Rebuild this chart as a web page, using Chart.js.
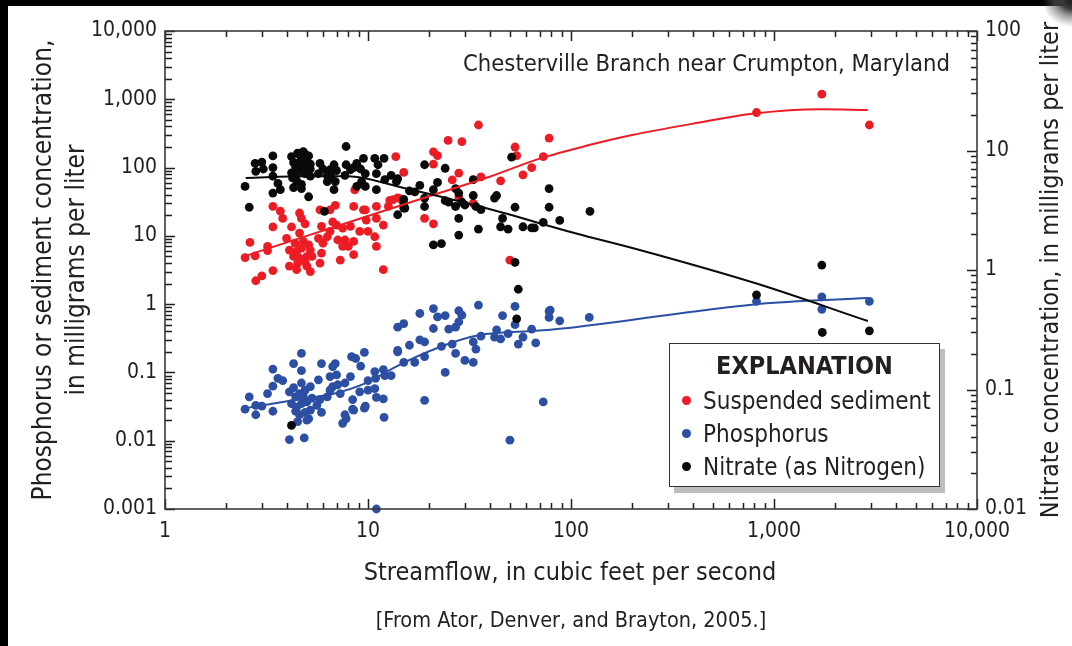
<!DOCTYPE html>
<html><head><meta charset="utf-8">
<script src="https://cdn.jsdelivr.net/npm/chart.js@4/dist/chart.umd.min.js"></script>
<style>
html,body{margin:0;padding:0;background:#000;width:1072px;height:646px;overflow:hidden;}
#paper{position:absolute;left:8px;top:6px;width:1064px;height:640px;background:#fff;}
#corner{position:absolute;left:1036px;top:0;width:36px;height:32px;background:radial-gradient(ellipse at 100% 0%, #1c1c1c 0px, #3a3a3a 10px, rgba(90,90,90,0.6) 18px, rgba(255,255,255,0) 30px);}
#c{position:absolute;left:0;top:0;}
.t{position:absolute;font-family:'Liberation Sans Narrow','DejaVu Sans Condensed','Roboto Condensed','Arial Narrow',sans-serif;color:#231f20;white-space:nowrap;}
.rot{transform:rotate(-90deg);text-align:center;width:560px;height:32px;line-height:32px;top:254px;}
#legend{position:absolute;left:669px;top:343px;width:271px;height:144px;box-sizing:border-box;border:1.5px solid #333;background:#fff;box-shadow:5px 6px 0 #bdbdbd;}
#legend .title{position:absolute;left:0;width:100%;top:7px;line-height:30px;text-align:center;font-weight:bold;font-size:25px;}
#legend .item{position:absolute;left:33px;line-height:30px;font-size:24px;}
#legend .dot{position:absolute;left:12px;width:9px;height:9px;border-radius:50%;}
</style></head>
<body>
<div id="paper"></div>
<div id="corner"></div>
<canvas id="c" width="1072" height="646"></canvas>
<div class="t rot" style="left:-238px;font-size:26px;">Phosphorus or sediment concentration,</div>
<div class="t rot" style="left:-205px;font-size:26px;">in milligrams per liter</div>
<div class="t rot" style="left:770px;font-size:25px;">Nitrate concentration, in milligrams per liter</div>
<div class="t" style="left:270px;width:600px;text-align:center;top:556px;line-height:32px;font-size:25px;">Streamflow, in cubic feet per second</div>
<div class="t" style="left:271px;width:600px;text-align:center;top:606px;line-height:28px;font-size:21.5px;">[From Ator, Denver, and Brayton, 2005.]</div>
<div class="t" style="right:122px;top:48px;line-height:30px;font-size:23.6px;">Chesterville Branch near Crumpton, Maryland</div>
<div id="legend"><div class="t title">EXPLANATION</div></div>
<script>
// ---------- data ----------
const sedimentFlow = [13.7,8.6,14.4,3.4,3.7,3.8,3.4,2.62,2.48,2.78,3.2,3.4,2.8,3.0,4.2,4.6,4.7,4.9,4.6,3.97,4.37,4.8,5.1,4.1,4.45,4.7,5.2,4.3,4.6,5.0,5.3,4.5,4.9,4.1,4.45,5.0,5.2,5.8,5.9,6.0,5.7,5.9,6.5,6.7,7.0,7.1,6.3,6.5,6.9,5.8,7.5,8.2,7.7,8.0,8.5,9.1,9.8,11.0,10.0,10.8,11.0,11.9,9.7,11.0,12.6,13.3,8.5,7.5,8.5,7.3,11.9,15,12.8,9.5,35,24.8,29,21,22,21,28,36,45,26,53,54,78,73,64,58,19,21,33,28,50,14,3.2,820,1720,2950];
const sedimentConc = [145,47,35,27,23,18,13.5,8,4.8,5.1,7,3.1,2.2,2.6,13.5,21.6,18,15,11,9.2,7.8,8.3,7.4,6.2,5.9,6.6,6.2,5.0,4.7,5.0,5.0,4.0,4.2,3.6,3.2,3.6,3.0,4.0,5.6,7.8,9.2,13.8,11.6,16,14.4,8.7,9.7,24,28,24,13,13.8,8.7,7.0,8.3,11.6,17,18,11.6,9.7,7.0,14.4,24,27,27,34,27,7.0,5.3,4.4,3.2,85,33,24,420,250,240,170,150,112,83,73,64,66,200,150,270,145,100,78,18,15,30,37,4.4,36,6.1,640,1190,420];

const phosphorusFlow = [2.48,2.6,2.8,3.0,2.8,3.2,3.4,3.4,3.4,3.6,3.8,4.3,4.7,4.7,4.1,4.4,4.6,4.9,4.2,4.45,4.7,5.0,4.4,4.6,4.9,5.1,4.5,5.0,5.2,4.7,5.2,4.1,4.85,5.7,5.9,5.9,5.8,6.3,6.5,6.7,6.5,6.7,6.9,7.0,7.1,7.3,7.7,7.7,7.8,7.5,8.3,8.7,8.4,8.4,9.2,9.6,8.2,9.1,9.7,10.0,10.0,10.8,11.9,12.1,13,10.8,11.0,12,14,14,10.9,11.9,15,21,18,22,24,28,29,28,27,25,35,21,53,53,46,78,78,88,14,16,18,19,15,17,19,23,26,27,30,33,33,34,36,42,43,45,49,55,58,64,67,24,19,73,50,123,820,1720,1720,2950,11,79,4.8,5.3,4.3,5.6,8.5,9.6];
const phosphorusConc = [0.029,0.044,0.033,0.032,0.024,0.049,0.063,0.112,0.027,0.082,0.076,0.135,0.19,0.106,0.052,0.044,0.049,0.055,0.035,0.031,0.035,0.037,0.027,0.024,0.026,0.021,0.019,0.020,0.028,0.070,0.062,0.0104,0.011,0.078,0.135,0.026,0.040,0.044,0.055,0.062,0.087,0.122,0.135,0.092,0.066,0.049,0.070,0.024,0.021,0.018,0.17,0.16,0.040,0.029,0.124,0.196,0.087,0.052,0.032,0.076,0.055,0.103,0.11,0.09,0.09,0.058,0.043,0.022,0.46,0.21,0.082,0.041,0.52,0.86,0.73,0.65,0.68,0.80,0.69,0.55,0.46,0.43,0.97,0.44,0.93,0.50,0.68,0.79,0.64,0.57,0.20,0.25,0.30,0.28,0.14,0.14,0.17,0.24,0.26,0.19,0.15,0.14,0.28,0.22,0.34,0.33,0.42,0.31,0.37,0.26,0.33,0.43,0.27,0.10,0.039,0.037,0.0102,0.64,1.1,1.28,0.84,1.1,0.001,0.82,0.045,0.042,0.060,0.033,0.028,0.030];

const nitrateFlow = [7.8,3.4,2.78,3.0,2.8,3.05,3.4,3.4,3.6,3.4,3.7,2.48,2.6,4.2,4.3,4.4,4.2,4.25,4.6,4.9,5.1,4.7,5.0,5.2,4.5,4.9,5.2,4.5,4.9,5.2,4.45,4.7,4.3,4.7,5.1,5.8,6.0,5.7,6.3,6.5,6.8,7.0,6.6,6.3,6.9,6.8,7.8,8.2,7.7,8.5,8.8,9.2,9.5,9.7,9.3,8.8,9.7,10.8,11.2,12,11,12.1,13,11,13.8,6.1,14,15,15.2,4.8,4.5,4.6,4.8,
  51,19,24,14,16,18,22,17,19,21,19,15,15,24,25,27,27,28,29,30,33,33,34,36,28,35,28,21,23,42,43,46,49,53,58,64,66,73,78,78,88,45,53,55,54,124,820,1720,1730,2950,4.2];
const nitrateConc = [10.8,9.0,7.8,8.0,6.7,7.0,7.2,6.1,5.3,4.4,4.7,5.0,3.35,8.9,7.9,7.2,6.5,5.9,9.2,9.3,9.0,8.3,8.2,7.7,7.6,7.2,7.0,6.6,6.4,6.1,5.6,5.2,4.9,4.8,4.1,7.8,7.0,6.4,6.2,6.9,7.6,6.8,6.0,5.5,5.5,4.7,7.6,6.9,6.2,7.2,7.8,7.0,8.6,6.4,5.5,5.0,5.0,8.6,7.6,8.6,6.4,5.7,6.2,4.7,5.5,3.1,2.9,3.6,3.3,9.8,9.5,8.0,7.0,
  8.8,7.6,7.1,5.8,4.6,5.1,5.4,4.5,4.0,4.7,3.4,3.9,3.3,3.8,3.7,3.4,4.8,4.4,3.7,3.5,5.7,4.2,3.4,3.2,2.7,2.2,1.96,1.62,1.66,4.0,4.2,2.7,2.2,3.35,2.3,2.25,2.25,2.5,3.35,4.8,2.6,2.3,1.16,0.69,0.39,3.1,0.62,1.10,0.30,0.31,0.05];

// smoothed trend lines
const sedimentTrendFlow = [2.5,5,10,20,40,70,120,200,400,800,1700,2900];
const sedimentTrendConc = [5.1,10,19.5,38,74,135,210,300,440,620,715,695];
const phosphorusTrendFlow = [2.5,4.5,7,10,13.6,22.6,35,70,105,820,2900];
const phosphorusTrendConc = [0.030,0.040,0.050,0.072,0.12,0.236,0.35,0.41,0.46,1.0,1.23];
const nitrateTrendFlow = [2.5,5,8,14,38,105,218,820,2900];
const nitrateTrendConc = [5.9,6.1,6.1,5.0,3.3,2.03,1.47,0.77,0.374];

const xTickValues = [1,10,100,1000,10000];
const xTickLabels = ['1','10','100','1,000','10,000'];
const yTickValues = [0.001,0.01,0.1,1,10,100,1000,10000];
const yTickLabels = ['0.001','0.01','0.1','1','10','100','1,000','10,000'];
const y2TickValues = [0.01,0.1,1,10,100];
const y2TickLabels = ['0.01','0.1','1','10','100'];

const seriesNames = ['Suspended sediment','Phosphorus','Nitrate (as Nitrogen)'];
const seriesColors = ['#ed1c24','#2c4fa3','#0a0a0a'];

// ---------- chart ----------
const FONT = "'Liberation Sans Narrow','DejaVu Sans Condensed','Roboto Condensed','Arial Narrow',sans-serif";
const TXT = '#231f20';
const zip = (a,b) => a.map((v,i) => ({x:v, y:b[i]}));

// tick positions on a log axis: 1..9 times each power of ten inside [min, max]
function decadeTicks(min, max) {
  const out = [];
  const d0 = Math.floor(Math.log10(min) + 1e-9), d1 = Math.ceil(Math.log10(max) - 1e-9);
  for (let d = d0; d <= d1; d++) {
    for (let m = 1; m <= 9; m++) {
      const v = m * Math.pow(10, d);
      if (v >= min * 0.999 && v <= max * 1.001) out.push({v, major: m === 1});
    }
  }
  return out;
}

const frame = {
  id: 'logframe',
  afterDraw(chart) {
    const ctx = chart.ctx, a = chart.chartArea;
    const sx = chart.scales.x, sy = chart.scales.y, sy2 = chart.scales.y2;
    ctx.save();
    ctx.strokeStyle = '#1e1e1e';
    ctx.lineWidth = 1.5;
    ctx.beginPath();
    decadeTicks(1, 10000).forEach(t => {
      const p = Math.round(sx.getPixelForValue(t.v)) + 0.5, L = t.major ? 10 : 6;
      ctx.moveTo(p, a.bottom); ctx.lineTo(p, a.bottom - L);
      ctx.moveTo(p, a.top); ctx.lineTo(p, a.top + L);
    });
    decadeTicks(0.001, 10000).forEach(t => {
      const p = Math.round(sy.getPixelForValue(t.v)) + 0.5, L = t.major ? 10 : 7;
      ctx.moveTo(a.left, p); ctx.lineTo(a.left + L, p);
    });
    decadeTicks(0.01, 100).forEach(t => {
      const p = Math.round(sy2.getPixelForValue(t.v)) + 0.5, L = t.major ? 10 : 6;
      ctx.moveTo(a.right, p); ctx.lineTo(a.right - L, p);
    });
    ctx.stroke();
    ctx.strokeStyle = '#3a3a3a';
    ctx.lineWidth = 1.6;
    ctx.strokeRect(a.left, a.top, a.right - a.left, a.bottom - a.top);
    ctx.restore();
  }
};

const tickFont = {family: FONT, size: 21};
const pointSet = (i, fx, fy, axis, order) => ({
  label: seriesNames[i], data: zip(fx, fy), yAxisID: axis, order,
  backgroundColor: seriesColors[i], borderWidth: 0, pointRadius: 4.4, showLine: false, clip: false
});
const trendSet = (i, fx, fy, axis, order) => ({
  label: seriesNames[i] + ' trend', data: zip(fx, fy), yAxisID: axis, order,
  borderColor: seriesColors[i], borderWidth: 2, pointRadius: 0, showLine: true,
  cubicInterpolationMode: 'monotone', fill: false, clip: false
});

new Chart(document.getElementById('c'), {
  type: 'scatter',
  data: {
    datasets: [
      pointSet(0, sedimentFlow, sedimentConc, 'y', 6),
      pointSet(1, phosphorusFlow, phosphorusConc, 'y', 5),
      pointSet(2, nitrateFlow, nitrateConc, 'y2', 4),
      trendSet(0, sedimentTrendFlow, sedimentTrendConc, 'y', 3),
      trendSet(1, phosphorusTrendFlow, phosphorusTrendConc, 'y', 2),
      trendSet(2, nitrateTrendFlow, nitrateTrendConc, 'y2', 1)
    ]
  },
  options: {
    responsive: false, devicePixelRatio: 1, animation: false, events: [],
    layout: {padding: {top: 31, left: 0, right: 0, bottom: 0}},
    plugins: {legend: {display: false}, tooltip: {enabled: false}},
    scales: {
      x: {
        type: 'logarithmic', position: 'bottom', min: 1, max: 10000,
        afterBuildTicks: s => { s.ticks = xTickValues.map(v => ({value: v})); },
        afterFit: s => { s.height = 137; },
        grid: {display: false, drawTicks: false}, border: {display: false},
        ticks: {padding: 10, color: TXT, font: tickFont, maxRotation: 0, autoSkip: false,
                callback: (v, i) => xTickLabels[i]}
      },
      y: {
        type: 'logarithmic', position: 'left', min: 0.001, max: 10000,
        afterBuildTicks: s => { s.ticks = yTickValues.map(v => ({value: v})); },
        afterFit: s => { s.width = 165; },
        grid: {display: false, drawTicks: false}, border: {display: false},
        ticks: {padding: 8, color: TXT, font: tickFont, autoSkip: false,
                callback: (v, i) => yTickLabels[i]}
      },
      y2: {
        type: 'logarithmic', position: 'right', min: 0.01, max: 100,
        afterBuildTicks: s => { s.ticks = y2TickValues.map(v => ({value: v})); },
        afterFit: s => { s.width = 95; },
        grid: {display: false, drawTicks: false}, border: {display: false},
        ticks: {padding: 8, color: TXT, font: tickFont, autoSkip: false,
                callback: (v, i) => y2TickLabels[i]}
      }
    }
  },
  plugins: [frame]
});

// legend built from the series names and colours
const lg = document.getElementById('legend');
seriesNames.forEach((name, i) => {
  const top = 42 + i * 33;
  const d = document.createElement('div'); d.className = 'dot';
  d.style.top = (top + 10) + 'px'; d.style.background = seriesColors[i];
  const t = document.createElement('div'); t.className = 't item';
  t.style.top = top + 'px'; t.textContent = name;
  lg.appendChild(d); lg.appendChild(t);
});
</script>
</body></html>
